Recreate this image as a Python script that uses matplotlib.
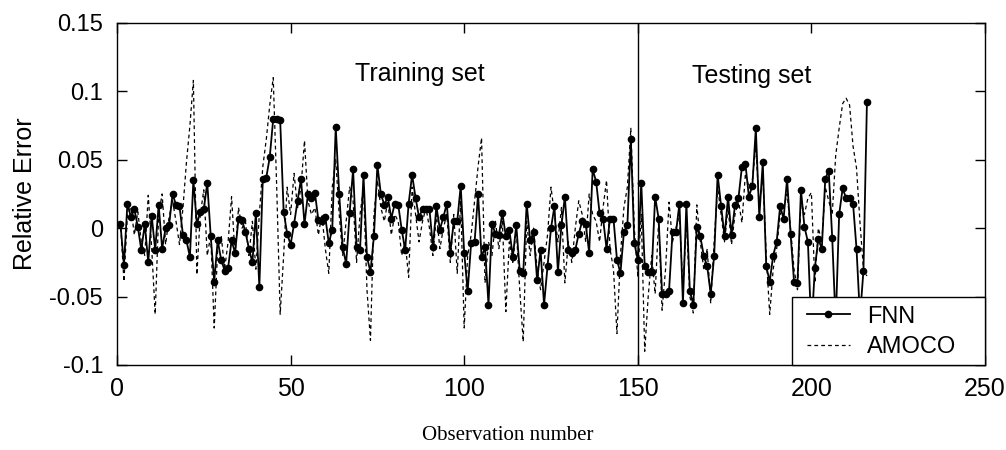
import numpy as np
import matplotlib
matplotlib.use("Agg")
import matplotlib.pyplot as plt
from matplotlib.patches import Rectangle

# relative error of each model per observation
fnn = [
    0.003, -0.027, 0.018, 0.008, 0.014, 0.001, -0.016, 0.003, -0.025, 0.009,
    -0.016, 0.017, -0.015, 0.000, 0.002, 0.025, 0.017, 0.016, -0.005, -0.009,
    -0.021, 0.035, 0.003, 0.012, 0.014, 0.033, -0.006, -0.039, -0.009, -0.023,
    -0.031, -0.029, -0.009, -0.018, 0.007, 0.006, -0.003, -0.015, -0.025, 0.011,
    -0.043, 0.036, 0.037, 0.052, 0.080, 0.080, 0.079, 0.012, -0.004, -0.012,
    0.003, 0.020, 0.036, 0.003, 0.025, 0.022,
    0.026, 0.006, 0.005, 0.008, -0.011, -0.001, 0.074, 0.025, -0.014, -0.026,
    0.011, 0.043, -0.014, -0.016, 0.039, -0.021, -0.032, -0.006, 0.046, 0.025,
    0.017, 0.023, 0.007, 0.018, 0.017, -0.001, -0.016, 0.018, 0.039, 0.022,
    0.008, 0.014, 0.014, 0.014, -0.014, 0.016, -0.001, 0.008, 0.018, -0.018,
    0.005, 0.005, 0.031, -0.018, -0.046, -0.011, -0.010, 0.025, -0.021, -0.014,
    -0.056, 0.003, -0.004,
    -0.005, 0.011, -0.006, -0.001, -0.021, 0.002, -0.031, -0.033, 0.018, -0.009,
    -0.003, -0.038, -0.016, -0.056, -0.028, 0.000, 0.016, -0.032, 0.002, 0.023,
    -0.016, -0.018, -0.016, -0.004, 0.005, 0.003, -0.018, 0.043, 0.034, 0.011,
    0.007, -0.015, 0.007, 0.007, -0.023, -0.033, -0.003, 0.002, 0.065, -0.011,
    -0.023, 0.033, -0.028, -0.032, -0.032, 0.023, 0.007, -0.048, -0.048, -0.046,
    -0.003, -0.003, 0.018,
    -0.055, 0.018, -0.046, -0.056, 0.001, -0.006, -0.020, -0.028, -0.048, -0.020,
    0.039, 0.016, -0.006, 0.023, -0.005, 0.017, 0.022, 0.045, 0.047, 0.023,
    0.031, 0.073, 0.008, 0.048, -0.028, -0.039, -0.020, -0.010, 0.016, 0.007,
    0.036, -0.004, -0.039, -0.040, 0.028, 0.001, -0.010, -0.075, -0.029, -0.008,
    -0.015, 0.036, 0.042, -0.007, -0.070, 0.010, 0.029, 0.022, 0.022, 0.018,
    -0.015, -0.065, -0.031, 0.092,
]

amoco = [
    0.005, -0.039, 0.010, 0.015, -0.005, 0.012, -0.010, -0.020, 0.024, -0.015,
    -0.063, 0.010, 0.025, -0.012, 0.008, 0.020, 0.005, -0.012, 0.015, 0.048,
    0.075, 0.108, -0.034, 0.010, 0.028, -0.020, -0.005, -0.073, -0.015, -0.005,
    -0.030, -0.010, 0.023, -0.020, 0.015, 0.000, 0.005, -0.020, 0.005, -0.030,
    0.010, 0.045, 0.065, 0.090, 0.110, 0.030, -0.063, -0.020, 0.030, 0.010,
    0.040, 0.015, 0.030, 0.064, 0.020, 0.010,
    0.015, -0.005, 0.010, -0.015, -0.033, 0.030, 0.050, 0.010, -0.020, 0.005,
    0.030, 0.020, -0.025, 0.010, 0.030, -0.045, -0.082, 0.010, 0.035, 0.015,
    0.005, 0.020, -0.005, 0.010, 0.005, -0.020, -0.010, -0.036, 0.030, 0.010,
    -0.010, 0.005, 0.015, 0.000, -0.020, 0.010, -0.015, 0.000, 0.010, -0.025,
    0.010, -0.033, 0.020, -0.073, -0.020, -0.005, 0.020, 0.045, 0.066, -0.040,
    -0.010, -0.020, 0.005,
    -0.015, 0.005, -0.061, -0.010, -0.025, 0.000, -0.045, -0.083, 0.005, -0.020,
    0.000, -0.030, -0.045, -0.025, -0.005, 0.030, 0.010, -0.010, 0.015, -0.040,
    -0.010, -0.025, 0.000, 0.020, 0.010, -0.010, 0.025, 0.010, 0.005, -0.010,
    0.015, 0.035, -0.015, -0.030, -0.077, -0.020, 0.015, 0.030, 0.073, 0.000,
    -0.035, 0.010, -0.090, -0.050, -0.020, -0.048, 0.005, -0.060, -0.030, 0.019,
    -0.010, 0.000, 0.010,
    -0.045, 0.005, -0.050, -0.062, 0.017, -0.010, -0.030, -0.015, -0.055, -0.010,
    0.030, 0.010, -0.010, 0.015, -0.012, 0.010, 0.020, 0.004, 0.040, 0.030,
    0.035, 0.060, 0.015, 0.040, -0.020, -0.063, -0.030, -0.015, 0.010, 0.015,
    0.025, 0.000, -0.030, -0.045, 0.020, 0.010, 0.022, 0.026, -0.040, 0.000,
    -0.010, 0.030, 0.020, 0.010, 0.053, 0.073, 0.091, 0.095, 0.090, 0.060,
    0.044, 0.004, -0.030, -0.035,
]

obs = np.arange(1, len(fnn) + 1)
split_at = 150
xticks = [0, 50, 100, 150, 200, 250]
yticks = [-0.1, -0.05, 0, 0.05, 0.1, 0.15]
ytick_labels = ["-0.1", "-0.05", "0", "0.05", "0.1", "0.15"]

sans = "Liberation Sans"
serif = "Liberation Serif"

fig = plt.figure(figsize=(10.06, 4.5), dpi=100)
ax = fig.add_axes([0.1163, 0.189, 0.8628, 0.760])

ax.plot(obs, amoco, color="black", lw=0.9, ls=(0, (3, 2.5)), label="AMOCO", zorder=2)
ax.plot(obs, fnn, color="black", lw=1.3, marker="o", ms=4.5, label="FNN", zorder=3)
ax.axvline(split_at, color="black", lw=1.0, zorder=4)

ax.set_xlim(0, 250)
ax.set_ylim(-0.1, 0.15)
ax.set_xticks(xticks)
ax.set_yticks(yticks)
ax.set_yticklabels(ytick_labels)
ax.tick_params(direction="in", length=7, width=1, top=True, right=True,
               labelsize=17)
ax.tick_params(axis="y", pad=10)
ax.tick_params(axis="x", pad=9, labelsize=18)
for lbl in ax.get_xticklabels() + ax.get_yticklabels():
    lbl.set_family(sans)
for s in ax.spines.values():
    s.set_linewidth(1.0)

ax.text(68.5, 0.113, "Training set", family=sans, fontsize=18, va="center")
ax.text(165.5, 0.111, "Testing set", family=sans, fontsize=18, va="center")

ax.set_ylabel("Relative Error", family=sans, fontsize=18, labelpad=9)
fig.text(0.505, 0.033, "Observation number", family=serif, fontsize=15,
         ha="center", va="center")

# legend box (MATLAB style, flush with the lower right corner)
box = Rectangle((0.7776, 0), 1 - 0.7776, 0.198, transform=ax.transAxes,
                facecolor="white", edgecolor="black", lw=1.0, zorder=4.5,
                clip_on=False)
ax.add_patch(box)

handles, labels = ax.get_legend_handles_labels()
leg = ax.legend(handles[::-1], labels[::-1], loc="lower left",
                bbox_to_anchor=(0.787, 0.0), prop={"family": sans, "size": 17},
                frameon=False, borderaxespad=0, handlelength=1.8,
                labelspacing=0.35, borderpad=0.3, handletextpad=0.75,
                numpoints=1)
leg.set_zorder(5)

fig.savefig("out.png", dpi=100, facecolor="white")
